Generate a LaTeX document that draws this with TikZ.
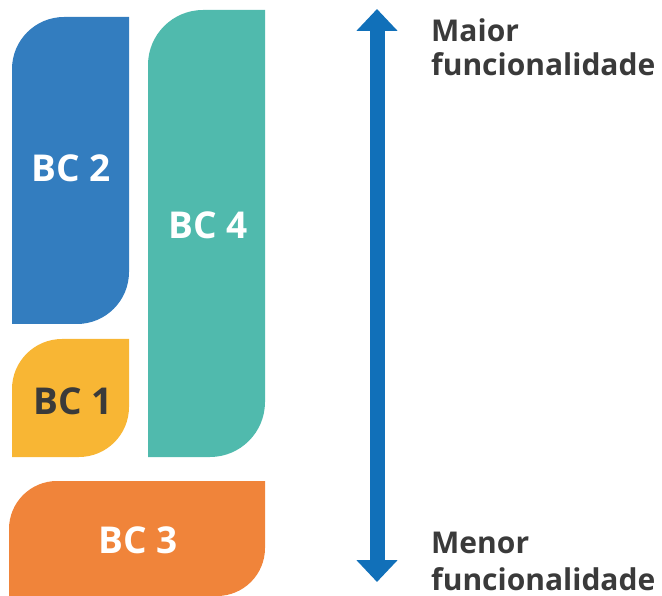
\documentclass[tikz,border=0pt]{standalone}
\usepackage{fontspec}
\setmainfont{Open Sans}
\usetikzlibrary{arrows.meta}
\definecolor{bcblue}{HTML}{337DBF}
\definecolor{bcteal}{HTML}{50BAAD}
\definecolor{bcyellow}{HTML}{F8B634}
\definecolor{bcorange}{HTML}{F0843A}
\definecolor{arrowblue}{HTML}{1170B9}
\definecolor{ink}{HTML}{3A3A3A}
% leaf-shaped block: rounded top-left and bottom-right corners
% #1 colour, #2 left, #3 top, #4 right, #5 bottom, #6 radius (y grows downwards)
\newcommand{\leafblock}[6]{%
  \fill[#1] (#2,#5) -- (#2,#3+#6) arc[start angle=180,end angle=270,radius=#6]
    -- (#4,#3) -- (#4,#5-#6) arc[start angle=0,end angle=90,radius=#6] -- cycle;}
\tikzset{
  blocklabel/.style={font=\bfseries\fontsize{37}{40}\selectfont, anchor=base, inner sep=0pt},
  sidelabel/.style={font=\bfseries\fontsize{30}{35}\selectfont, text=ink, anchor=base west, inner sep=0pt},
  scalearrow/.style={draw=arrowblue, line width=15pt,
    {Triangle[width=40pt,length=22pt]}-{Triangle[width=40pt,length=22pt]}}
}
\begin{document}
\begin{tikzpicture}[x=1pt,y=-1pt]
  \useasboundingbox (0,0) rectangle (662,596);
  % blocks
  \leafblock{bcblue}{12}{17}{129}{324}{52}
  \leafblock{bcteal}{148}{10}{265}{457}{55}
  \leafblock{bcyellow}{12}{339}{129}{457}{50}
  \leafblock{bcorange}{9}{481}{265}{596}{48}
  \node[blocklabel, text=white] (bc2) at (71,182) {BC 2};
  \node[blocklabel, text=white] (bc4) at (208,239) {BC 4};
  \node[blocklabel, text=ink] (bc1) at (73,414) {BC 1};
  \node[blocklabel, text=white] (bc3) at (138,553) {BC 3};
  % functionality scale
  \coordinate (top) at (377,9);
  \coordinate (bottom) at (377,582);
  \draw[scalearrow] (bottom) -- (top);
  \node[sidelabel] (maior) at (431,42) {Maior};
  \node[sidelabel] (maiorf) at (431,76) {funcionalidade};
  \node[sidelabel] (menor) at (431,553) {Menor};
  \node[sidelabel] (menorf) at (431,590) {funcionalidade};
\end{tikzpicture}
\end{document}
